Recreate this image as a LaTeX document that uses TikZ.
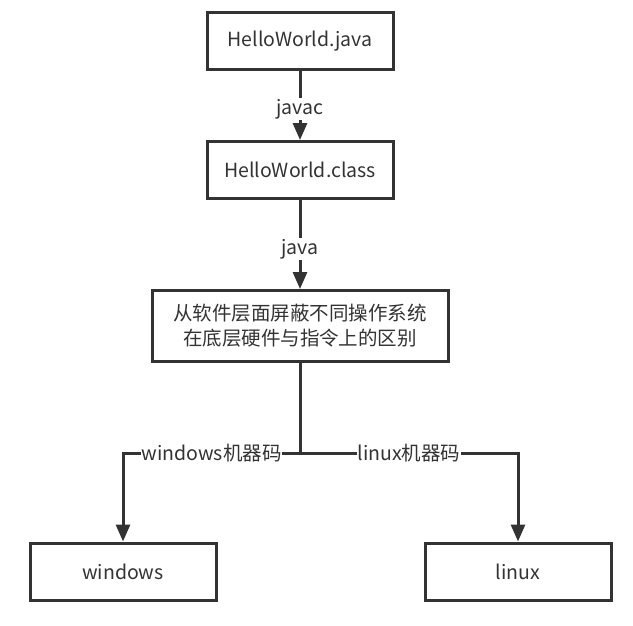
\documentclass[tikz,border=0pt]{standalone}
\usepackage{fontspec}
\setmainfont{Noto Sans CJK SC}
\usetikzlibrary{arrows.meta}
\definecolor{linegray}{HTML}{333333}
\tikzset{
    flow box/.style={
        draw=linegray, line width=3pt,
        minimum width=186pt, minimum height=57pt,
        text=linegray, align=center,
        font=\fontsize{19.5}{25}\selectfont
    },
    flow arrow/.style={
        draw=linegray, line width=3pt,
        -{Triangle[length=17pt,width=14pt]}
    },
    flow label/.style={
        fill=white, text=linegray, inner sep=1pt,
        font=\fontsize{19.5}{25}\selectfont
    }
}

\begin{document}
\begin{tikzpicture}[x=1pt, y=-1pt]
    \useasboundingbox (0,0) rectangle (633,625);
    % boxes
    \node[flow box] (srcfile) at (300,41) {HelloWorld.java};
    \node[flow box] (classfile) at (300,170) {HelloWorld.class};
    \node[flow box, minimum width=296pt, minimum height=71pt] (jvm) at (300,326)
        {从软件层面屏蔽不同操作系统\\在底层硬件与指令上的区别};
    \node[flow box] (win) at (123,571.5) {windows};
    \node[flow box] (lin) at (518,571.5) {linux};
    \coordinate (fork) at (300,453);
    % connectors
    \draw[flow arrow] (srcfile) -- node[flow label, pos=0.55] {javac} (classfile);
    \draw[flow arrow] (classfile) -- node[flow label, pos=0.55] {java} (jvm);
    \draw[flow arrow] (jvm.south) -- (fork)
        -- node[flow label] {windows机器码} (fork -| win) -- (win);
    \draw[flow arrow] (fork)
        -- node[flow label] {linux机器码} (fork -| lin) -- (lin);
\end{tikzpicture}
\end{document}
